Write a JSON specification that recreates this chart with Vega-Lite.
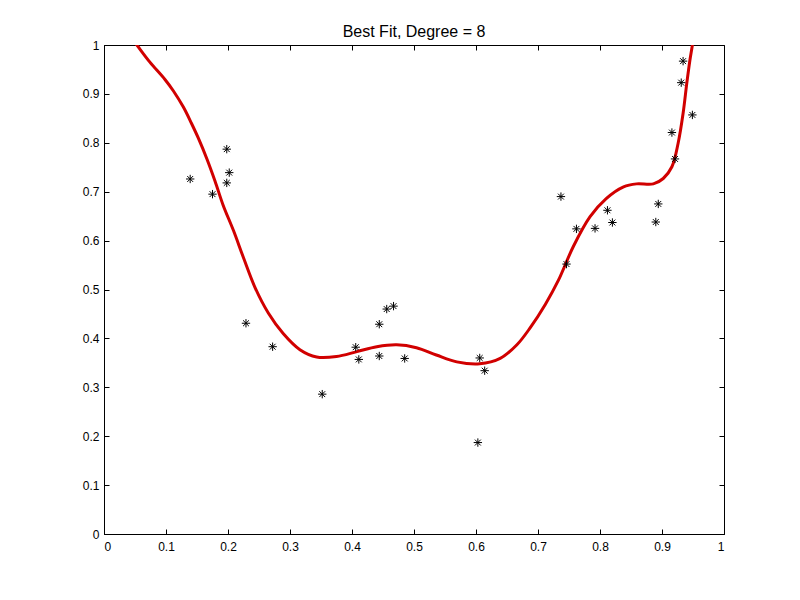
{
  "$schema": "https://vega.github.io/schema/vega-lite/v6.json",
  "autosize": "none",
  "width": 620,
  "height": 489,
  "padding": {"left": 104, "top": 45, "right": 76, "bottom": 66},
  "background": "white",
  "title": {"text": "Best Fit, Degree = 8", "fontSize": 16, "fontWeight": "normal", "font": "Liberation Sans", "color": "black", "offset": -1, "anchor": "middle"},
  "config": {
    "view": {"stroke": "black", "strokeWidth": 1},
    "axis": {"grid": false, "domainColor": "black", "tickColor": "black", "labelColor": "black", "labelFont": "Liberation Sans", "labelFontSize": 12, "tickSize": -5, "title": null},
    "axisX": {"labelPadding": 12},
    "axisY": {"labelPadding": 10}
  },
  "datasets": {
    "pts": [
      {"x": 0.139, "y": 0.726}, {"x": 0.175, "y": 0.695}, {"x": 0.198, "y": 0.787}, {"x": 0.202, "y": 0.739},
      {"x": 0.198, "y": 0.718}, {"x": 0.229, "y": 0.431}, {"x": 0.272, "y": 0.383}, {"x": 0.352, "y": 0.286},
      {"x": 0.406, "y": 0.382}, {"x": 0.411, "y": 0.357}, {"x": 0.444, "y": 0.429}, {"x": 0.444, "y": 0.364},
      {"x": 0.456, "y": 0.460}, {"x": 0.467, "y": 0.466}, {"x": 0.485, "y": 0.359}, {"x": 0.606, "y": 0.360},
      {"x": 0.614, "y": 0.334}, {"x": 0.603, "y": 0.187}, {"x": 0.737, "y": 0.690}, {"x": 0.746, "y": 0.552},
      {"x": 0.762, "y": 0.624}, {"x": 0.792, "y": 0.625}, {"x": 0.812, "y": 0.662}, {"x": 0.820, "y": 0.637},
      {"x": 0.890, "y": 0.638}, {"x": 0.894, "y": 0.675}, {"x": 0.916, "y": 0.821}, {"x": 0.921, "y": 0.767},
      {"x": 0.931, "y": 0.923}, {"x": 0.934, "y": 0.967}, {"x": 0.949, "y": 0.857}
    ],
    "curve": [
      {"x": 0.040, "y": 1.022}, {"x": 0.053, "y": 1.0}, {"x": 0.074, "y": 0.965}, {"x": 0.098, "y": 0.930},
      {"x": 0.112, "y": 0.906}, {"x": 0.128, "y": 0.873}, {"x": 0.141, "y": 0.840}, {"x": 0.152, "y": 0.810},
      {"x": 0.166, "y": 0.767}, {"x": 0.179, "y": 0.722}, {"x": 0.192, "y": 0.673}, {"x": 0.209, "y": 0.620},
      {"x": 0.225, "y": 0.565}, {"x": 0.244, "y": 0.503}, {"x": 0.265, "y": 0.452}, {"x": 0.289, "y": 0.410},
      {"x": 0.316, "y": 0.377}, {"x": 0.343, "y": 0.362}, {"x": 0.375, "y": 0.363}, {"x": 0.408, "y": 0.373},
      {"x": 0.440, "y": 0.383}, {"x": 0.472, "y": 0.387}, {"x": 0.504, "y": 0.381}, {"x": 0.536, "y": 0.366},
      {"x": 0.569, "y": 0.352}, {"x": 0.606, "y": 0.348}, {"x": 0.639, "y": 0.359}, {"x": 0.666, "y": 0.387},
      {"x": 0.687, "y": 0.421}, {"x": 0.712, "y": 0.470}, {"x": 0.733, "y": 0.519}, {"x": 0.757, "y": 0.588},
      {"x": 0.784, "y": 0.649}, {"x": 0.810, "y": 0.686}, {"x": 0.838, "y": 0.710}, {"x": 0.859, "y": 0.716},
      {"x": 0.886, "y": 0.716}, {"x": 0.902, "y": 0.727}, {"x": 0.916, "y": 0.751}, {"x": 0.926, "y": 0.799},
      {"x": 0.934, "y": 0.860}, {"x": 0.940, "y": 0.922}, {"x": 0.945, "y": 0.969}, {"x": 0.949, "y": 1.0},
      {"x": 0.953, "y": 1.04}
    ]
  },
  "layer": [
    {
      "data": {"name": "curve"},
      "mark": {"type": "line", "color": "#d10000", "strokeWidth": 3, "clip": true, "interpolate": "catmull-rom"},
      "encoding": {
        "x": {"field": "x", "type": "quantitative", "scale": {"domain": [0, 1], "nice": false},
              "axis": {"values": [0, 0.1, 0.2, 0.3, 0.4, 0.5, 0.6, 0.7, 0.8, 0.9, 1], "format": "~g"}},
        "y": {"field": "y", "type": "quantitative", "scale": {"domain": [0, 1], "nice": false},
              "axis": {"values": [0, 0.1, 0.2, 0.3, 0.4, 0.5, 0.6, 0.7, 0.8, 0.9, 1], "format": "~g"}}
      }
    },
    {
      "data": {"name": "pts"},
      "mark": {"type": "point", "shape": "M-1,0L1,0M0,-1L0,1M-0.7,-0.7L0.7,0.7M-0.7,0.7L0.7,-0.7", "filled": false, "stroke": "black", "strokeWidth": 1, "size": 70, "opacity": 1},
      "encoding": {
        "x": {"field": "x", "type": "quantitative",
              "axis": {"orient": "top", "values": [0, 0.1, 0.2, 0.3, 0.4, 0.5, 0.6, 0.7, 0.8, 0.9, 1], "labels": false, "domain": false}},
        "y": {"field": "y", "type": "quantitative",
              "axis": {"orient": "right", "values": [0, 0.1, 0.2, 0.3, 0.4, 0.5, 0.6, 0.7, 0.8, 0.9, 1], "labels": false, "domain": false}}
      }
    }
  ],
  "resolve": {"axis": {"x": "independent", "y": "independent"}}
}
